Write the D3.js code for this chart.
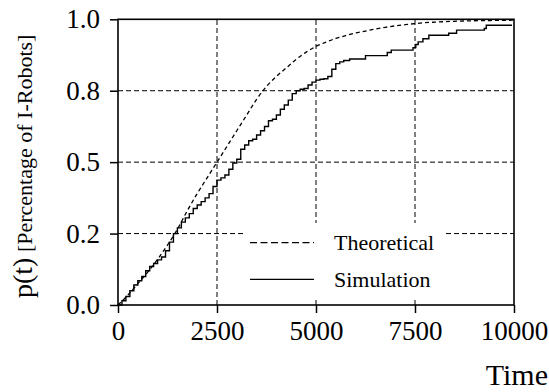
<!DOCTYPE html>
<html>
<head>
<meta charset="utf-8">
<script src="https://cdn.jsdelivr.net/npm/d3@7"></script>
<style>
  body { margin: 0; background: #fff; }
  svg text { font-family: "Liberation Serif", "Times New Roman", serif; fill: #000; }
</style>
</head>
<body>
<div id="chart"></div>
<script>
// theoretical curve p(t)
var theoT = [0, 250, 500, 750, 1000, 1250, 1500, 1750, 2000, 2250, 2500, 2750, 3000, 3250, 3500, 3750, 4000, 4250, 4500, 4750, 5000, 5250, 5500, 5750, 6000, 6250, 6500, 6750, 7000, 7250, 7500, 7750, 8000, 8500, 9000, 9500, 10000];
var theoP = [0, 0.035, 0.075, 0.115, 0.16, 0.21, 0.265, 0.33, 0.39, 0.445, 0.5, 0.555, 0.61, 0.665, 0.72, 0.765, 0.8, 0.83, 0.86, 0.885, 0.905, 0.92, 0.933, 0.943, 0.952, 0.959, 0.966, 0.972, 0.977, 0.981, 0.985, 0.988, 0.99, 0.993, 0.995, 0.996, 0.997];

// simulation (step curve)
var simT = [0, 100, 200, 300, 400, 500, 600, 700, 800, 900, 1000, 1100, 1200, 1300, 1400, 1500, 1600, 1700, 1800, 1900, 2000, 2100, 2200, 2300, 2400, 2500, 2600, 2700, 2800, 2900, 3000, 3100, 3200, 3300, 3400, 3500, 3600, 3700, 3800, 3900, 4000, 4100, 4200, 4300, 4400, 4500, 4600, 4700, 4800, 4900, 5000, 5100, 5200, 5300, 5400, 5500, 5600, 5700, 5850, 6250, 6800, 6900, 7450, 7520, 7580, 7700, 7850, 8350, 8550, 9250, 9300, 9950];
var simP = [0, 0.015, 0.03, 0.05, 0.07, 0.085, 0.1, 0.12, 0.135, 0.145, 0.158, 0.168, 0.19, 0.22, 0.25, 0.27, 0.29, 0.305, 0.32, 0.338, 0.35, 0.362, 0.375, 0.39, 0.415, 0.437, 0.445, 0.455, 0.475, 0.497, 0.51, 0.545, 0.56, 0.575, 0.58, 0.595, 0.61, 0.625, 0.645, 0.65, 0.665, 0.685, 0.7, 0.717, 0.74, 0.75, 0.755, 0.758, 0.77, 0.78, 0.787, 0.79, 0.792, 0.8, 0.825, 0.845, 0.851, 0.856, 0.861, 0.873, 0.884, 0.892, 0.901, 0.912, 0.921, 0.932, 0.944, 0.951, 0.962, 0.968, 0.979, 0.979];

var xTicks = [0, 2500, 5000, 7500, 10000];
var yTicks = [0, 0.25, 0.5, 0.75, 1];
var yTickLabels = ["0.0", "0.2", "0.5", "0.8", "1.0"];
var seriesNames = ["Theoretical", "Simulation"];

var serif = "'Liberation Serif', 'Times New Roman', serif";
var W = 549, H = 392;
var svg = d3.select("#chart").append("svg")
    .attr("width", W)
    .attr("height", H)
    .attr("font-family", serif);

var x = d3.scaleLinear().domain([0, 10000]).range([118, 514]);
var y = d3.scaleLinear().domain([0, 1]).range([305, 19.3]);

// grid
var grid = svg.append("g").attr("stroke", "#000").attr("stroke-width", 1).attr("stroke-dasharray", "5,3");
grid.selectAll("line.gx").data(xTicks.slice(1, -1)).enter().append("line")
    .attr("class", "gx")
    .attr("x1", function(d) { return x(d); }).attr("x2", function(d) { return x(d); })
    .attr("y1", y(0)).attr("y2", y(1));
grid.selectAll("line.gy").data(yTicks.slice(1, -1)).enter().append("line")
    .attr("class", "gy")
    .attr("y1", function(d) { return y(d); }).attr("y2", function(d) { return y(d); })
    .attr("x1", x(0)).attr("x2", x(10000));

// curves
var theo = theoT.map(function(t, i) { return [t, theoP[i]]; });
var sim = simT.map(function(t, i) { return [t, simP[i]]; });

var line = d3.line().x(function(d) { return x(d[0]); }).y(function(d) { return y(d[1]); });

svg.append("path").datum(theo)
    .attr("d", line.curve(d3.curveMonotoneX))
    .attr("fill", "none").attr("stroke", "#000").attr("stroke-width", 1.3)
    .attr("stroke-dasharray", "4,3");

svg.append("path").datum(sim)
    .attr("d", line.curve(d3.curveStepAfter))
    .attr("fill", "none").attr("stroke", "#000").attr("stroke-width", 1.4);

// legend (white box, no border)
var leg = svg.append("g");
leg.append("rect").attr("x", 243).attr("y", 223).attr("width", 202).attr("height", 75).attr("fill", "#fff");
leg.selectAll("line").data(seriesNames).enter().append("line")
    .attr("x1", 250).attr("x2", 314)
    .attr("y1", function(d, i) { return 242.7 + i * 36.6; })
    .attr("y2", function(d, i) { return 242.7 + i * 36.6; })
    .attr("stroke", "#000").attr("stroke-width", 1.3)
    .attr("stroke-dasharray", function(d, i) { return i === 0 ? "7,3.5" : null; });
leg.selectAll("text").data(seriesNames).enter().append("text")
    .attr("x", 334)
    .attr("y", function(d, i) { return 250 + i * 36.6; })
    .style("font-size", "22px")
    .text(function(d) { return d; });

// frame
svg.append("rect")
    .attr("x", x(0)).attr("y", y(1))
    .attr("width", x(10000) - x(0)).attr("height", y(0) - y(1))
    .attr("fill", "none").attr("stroke", "#000").attr("stroke-width", 1.6);

// axes
var xAxis = d3.axisBottom(x).tickValues(xTicks).tickFormat(d3.format("d"))
    .tickSizeInner(8).tickSizeOuter(0).tickPadding(8);
var gx = svg.append("g").attr("transform", "translate(0," + y(0) + ")").call(xAxis);

var yAxis = d3.axisLeft(y).tickValues(yTicks)
    .tickFormat(function(d, i) { return yTickLabels[i]; })
    .tickSizeInner(8).tickSizeOuter(0).tickPadding(10);
var gy = svg.append("g").attr("transform", "translate(" + x(0) + ",0)").call(yAxis);

[gx, gy].forEach(function(g) {
  g.attr("font-family", serif).attr("font-size", 27);
  g.select(".domain").remove();
  g.selectAll(".tick line").attr("stroke", "#000").attr("stroke-width", 1.5);
  g.selectAll(".tick text").attr("fill", "#000");
});

// axis titles
svg.append("text")
    .attr("x", 548).attr("y", 385)
    .attr("text-anchor", "end")
    .style("font-size", "30px")
    .text("Time");

var yl = svg.append("text")
    .attr("transform", "translate(32,298) rotate(-90)")
    .attr("text-anchor", "start");
yl.append("tspan").style("font-size", "28px").text("p(t)");
yl.append("tspan").style("font-size", "22px").text(" [Percentage of I-Robots]");
</script>
</body>
</html>
